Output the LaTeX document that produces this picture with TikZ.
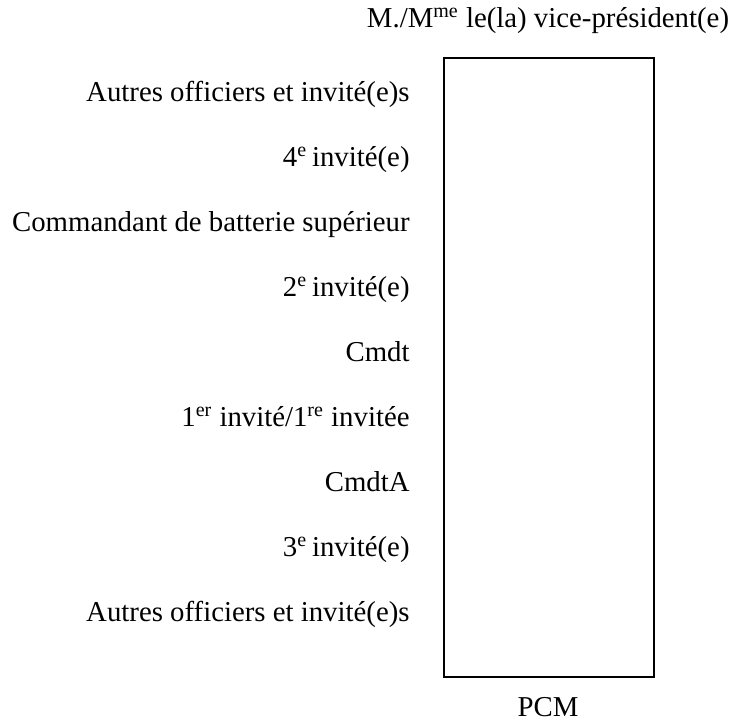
\documentclass[tikz,border=0pt]{standalone}
\usepackage{fontspec}
\setmainfont{Liberation Serif}
\usepackage{tikz}

\begin{document}
\begin{tikzpicture}[x=0.5pt,y=-0.5pt,
    lbl/.style={anchor=base east,inner sep=0pt,font=\fontsize{14.4}{16}\selectfont},
    ttl/.style={anchor=base,inner sep=0pt,font=\fontsize{14.4}{16}\selectfont}]
    \useasboundingbox (0,0) rectangle (734,721);
    \draw[line width=1pt] (444,58) rectangle (654,677);
    \node[ttl] (vp) at (548,28) {M./M\textsuperscript{me} le(la) vice-président(e)};
    \node[ttl] (pcm) at (548,716) {PCM};
    \node[lbl] (autres1) at (410,102) {Autres officiers et invité(e)s};
    \node[lbl] (inv4) at (410,167) {4\textsuperscript{e}\,invité(e)};
    \node[lbl] (cbs) at (410,232) {Commandant de batterie supérieur};
    \node[lbl] (inv2) at (410,297) {2\textsuperscript{e}\,invité(e)};
    \node[lbl] (cmdt) at (410,362) {Cmdt};
    \node[lbl] (inv1) at (410,427) {1\textsuperscript{er} invité/1\textsuperscript{re} invitée};
    \node[lbl] (cmdta) at (410,492) {CmdtA};
    \node[lbl] (inv3) at (410,557) {3\textsuperscript{e}\,invité(e)};
    \node[lbl] (autres2) at (410,622) {Autres officiers et invité(e)s};
  \end{tikzpicture}
\end{document}
